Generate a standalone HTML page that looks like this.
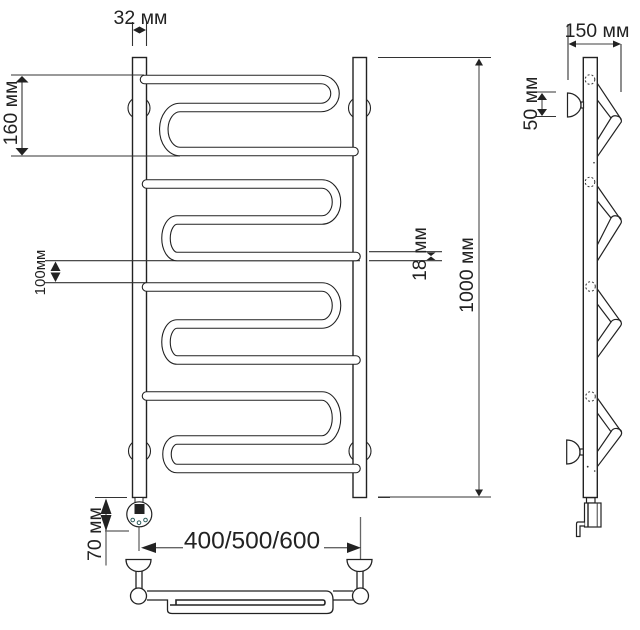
<!DOCTYPE html>
<html>
<head>
<meta charset="utf-8">
<style>
html,body{margin:0;padding:0;background:#fff;width:640px;height:630px;overflow:hidden}
svg{display:block}
text{font-family:"Liberation Sans",sans-serif;fill:#222}
</style>
</head>
<body>
<svg width="640" height="630" viewBox="0 0 640 630" xmlns="http://www.w3.org/2000/svg">
<rect width="640" height="630" fill="#fff"/>

<!-- wall brackets -->
<g fill="#fff" stroke="#222" stroke-width="1.1">
<circle cx="139" cy="108" r="11"/>
<circle cx="359.5" cy="108" r="11"/>
<circle cx="139.5" cy="451" r="11"/>
<circle cx="360" cy="451" r="11"/>
</g>

<!-- rails -->
<g fill="#fff" stroke="#222" stroke-width="1.4">
<rect x="132.5" y="57.5" width="14" height="440"/>
<rect x="353" y="57.5" width="13.5" height="440"/>
</g>

<!-- dimension lines behind coils -->
<g stroke="#333" stroke-width="1.1" fill="none">
<path d="M11 75H144M11 156H180M45 260.7H360M45 282.7H146"/>
</g>

<!-- coils -->
<g fill="none" stroke-linecap="round">
<g stroke="#222" stroke-width="9.6">
<path d="M144.500 79.500H321A14 14 0 0 1 321 107.500H180A16.200 22 0 0 0 180 151.500H354"/>
<path d="M146.500 184H322A14.500 18 0 0 1 322 220H177A11 18.250 0 0 0 177 256.500H356"/>
<path d="M146.500 287H322A14.500 18.500 0 0 1 322 324H177A11 18 0 0 0 177 360H356"/>
<path d="M146.500 396H322A14.500 22 0 0 1 322 440H177A10 14.250 0 0 0 177 468.500H356"/>
</g>
<g stroke="#fff" stroke-width="7.400">
<path d="M144.500 79.500H321A14 14 0 0 1 321 107.500H180A16.200 22 0 0 0 180 151.500H354"/>
<path d="M146.500 184H322A14.500 18 0 0 1 322 220H177A11 18.250 0 0 0 177 256.500H356"/>
<path d="M146.500 287H322A14.500 18.500 0 0 1 322 324H177A11 18 0 0 0 177 360H356"/>
<path d="M146.500 396H322A14.500 22 0 0 1 322 440H177A10 14.250 0 0 0 177 468.500H356"/>
</g>
</g>

<!-- dimensions: lines -->
<g stroke="#333" stroke-width="1.1" fill="none">
<path d="M132.500 22V46M146.500 22V46"/>
<path d="M22 80V150"/>
<path d="M369 251.700H442M369 260.700H442"/>
<path d="M378 57.500H491M378 497H491"/>
<path d="M95 497.500H127M378 497.500H390M105 531H129"/>
<path d="M568 24V80M621 44V92M535 92H556M535 116.500H556"/>
</g>
<g stroke="#666" stroke-width="1.300" fill="none">
<path d="M479 60V495"/>
<path d="M106 500V565.500"/>
<path d="M156 547.700H183M324 547.700H347"/>
<path d="M139 527V551M360.500 517V560"/>
<path d="M572 44H618M542 96V113"/>
</g>

<!-- arrowheads -->
<g fill="#222" stroke="none">
<polygon points="133,30 139.500,26.500 146,30 139.500,33.500"/>
<polygon points="22,75 15.500,81.500 28.500,81.500" transform="translate(0,1)"/>
<polygon points="22,155.500 15.500,148 28.500,148"/>
<polygon points="55.500,261.500 50.500,271 60.500,271"/>
<polygon points="55.500,282 50.500,272.500 60.500,272.500"/>
<polygon points="426.500,252.500 435.500,252.500 431,256"/>
<polygon points="426.500,260 435.500,260 431,256.500"/>
<polygon points="479,58.500 475,65.500 483,65.500"/>
<polygon points="479,496.500 475,489.500 483,489.500"/>
<polygon points="106,498.500 100.500,514 111.500,514"/>
<polygon points="106,531 100.500,515 111.500,515"/>
<polygon points="141,547.700 156,542.500 156,553"/>
<polygon points="361,547.700 347,542.500 347,553"/>
<polygon points="568.500,44 576,40.500 576,47.500"/>
<polygon points="621,44 613,40.500 613,47.500"/>
<polygon points="542,93 537,100 547,100"/>
<polygon points="542,116 537,109 547,109"/>
</g>

<!-- labels -->
<text x="140.500" y="24" font-size="19.500" text-anchor="middle">32 мм</text>
<text transform="translate(17,113) rotate(-90)" font-size="19.500" text-anchor="middle">160 мм</text>
<text transform="translate(45,272.500) rotate(-90)" font-size="15" text-anchor="middle">100мм</text>
<text transform="translate(426,254) rotate(-90)" font-size="19.500" text-anchor="middle">18 мм</text>
<text transform="translate(473,275) rotate(-90)" font-size="19.500" text-anchor="middle">1000 мм</text>
<text transform="translate(101,534) rotate(-90)" font-size="19.500" text-anchor="middle">70 мм</text>
<text x="252" y="548.500" font-size="24.500" text-anchor="middle">400/500/600</text>
<text x="597" y="37" font-size="19.500" text-anchor="middle">150 мм</text>
<text transform="translate(537,103.500) rotate(-90)" font-size="19.500" text-anchor="middle">50 мм</text>

<!-- thermostat knob -->
<rect x="135" y="497.500" width="8" height="5" fill="#fff" stroke="#222" stroke-width="1"/>
<circle cx="139.300" cy="514.300" r="12.500" fill="#fff" stroke="#222" stroke-width="1.200"/>
<rect x="134.500" y="504" width="10" height="10" fill="#222"/>
<g fill="#fff" stroke="#2b5a5a" stroke-width="1">
<circle cx="132.700" cy="520" r="1.800"/>
<circle cx="139" cy="522.700" r="1.800"/>
<circle cx="145.500" cy="520" r="1.800"/>
</g>

<!-- bottom top view -->
<g fill="#fff" stroke="#222" stroke-width="1.300">
<path d="M126 559.500H151C151 567 145 571.500 138.500 571.500C132 571.500 126 567 126 559.500Z"/>
<path d="M347 559.500H372C372 567 366 571.500 359.500 571.500C353 571.500 347 567 347 559.500Z"/>
<path d="M136 571.500V590M142 571.500V590M357 571.500V590M363 571.500V590" fill="none"/>
<path d="M147 591H326Q333 591 333 600V608Q333 613.500 327 613.500H172Q167.500 613.500 167.500 610V600H147" />
<path d="M333 591H353M333 600H353" fill="none"/>
<path d="M170 605H323Q325 605 325 602.500Q325 600 323 600H176V605" fill="none" stroke-width="1.600"/>
<circle cx="138.500" cy="596" r="8"/>
<circle cx="360.500" cy="596" r="8"/>
</g>

<!-- side view -->
<g fill="none" stroke="#222" stroke-width="1.200">
<path d="M597.300 83.300L621 119Q622 122 620.500 123L597.300 156.700"/>
<path d="M597.300 100L611 118L597.300 140"/>
<path d="M611 118Q613 115 617 116Q621 117 621 120"/>
<path d="M597.300 186L621 220Q622 222 620.500 224L597.300 261"/>
<path d="M597.300 201L611 218L597.300 245"/>
<path d="M611 218Q613 215 617 216Q621 217 621 220"/>
<path d="M597.300 289L621 322Q622 324 620.500 326L597.300 357.700"/>
<path d="M597.300 304L611 322L597.300 341.700"/>
<path d="M611 322Q613 319 617 319.500Q621 320 621 322"/>
<path d="M597.300 398L621.500 432Q622 434 620.500 436L597.300 466.700"/>
<path d="M597.300 413L611 431.700L597.300 451.700"/>
<path d="M611 431.700Q613 428 617 428.500Q621.500 429.500 621.500 432"/>
</g>
<rect x="583.300" y="57.500" width="14" height="440" fill="#fff" stroke="#222" stroke-width="1.400"/>
<g fill="none" stroke="#333" stroke-width="1" stroke-dasharray="2 2">
<circle cx="590" cy="79.500" r="4.800"/>
<circle cx="590" cy="182" r="4.800"/>
<circle cx="590.500" cy="286.500" r="4.800"/>
<circle cx="590.500" cy="396.500" r="4.800"/>
</g>
<g fill="#333">
<circle cx="594" cy="162.700" r="0.800"/>
<circle cx="587.700" cy="466.700" r="0.900"/>
<circle cx="594.700" cy="471" r="0.800"/>
</g>
<g fill="#fff" stroke="#222" stroke-width="1.200">
<path d="M567.500 93V117C574 117 581 112 581 105C581 98 574 93 567.500 93Z"/>
<rect x="581" y="102" width="2.500" height="6"/>
<path d="M566.700 440V464C574 464 580 459 580 452C580 445 574 440 566.700 440Z"/>
<rect x="580" y="449" width="3.300" height="6"/>
<rect x="586.500" y="497.700" width="8.500" height="5.300"/>
<rect x="584.500" y="503" width="16.500" height="24"/>
<path d="M588 503V527" fill="none" stroke-width="1.400"/>
<path d="M597.300 503.500V526.500" fill="none" stroke="#777" stroke-width="1.400"/>
<path d="M584.500 522H578Q576.500 522 576.500 524V536.500H580V526H584.500" fill="#fff"/>
</g>
</svg>
</body>
</html>
